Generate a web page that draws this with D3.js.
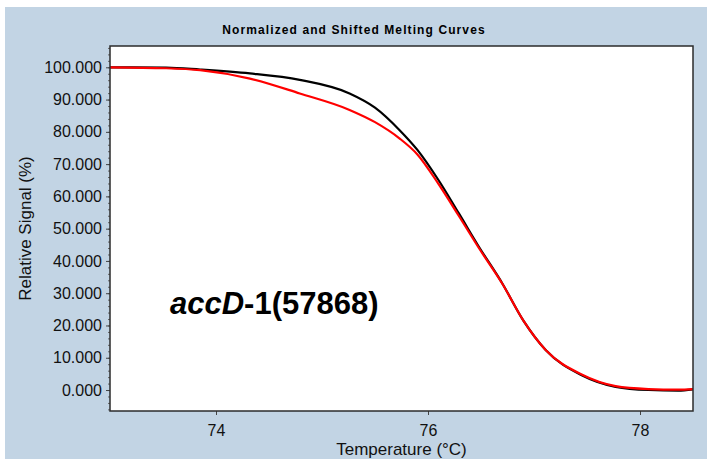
<!DOCTYPE html>
<html>
<head>
<meta charset="utf-8">
<script src="https://cdn.jsdelivr.net/npm/d3@7"></script>
<style>
  html, body { margin: 0; padding: 0; background: #fff; }
  svg { display: block; }
  text { font-family: "Liberation Sans", Arial, sans-serif; }
</style>
</head>
<body>
<div id="chart"></div>
<script>
// Temperatures (°C) where the curves were read
const temps = [73.0, 73.53, 73.85, 74.32, 74.79, 75.26, 75.5, 75.73, 75.9, 76.1, 76.29, 76.48, 76.7, 76.9, 77.11, 77.45, 77.77, 78.08, 78.36, 78.5];
// black curve (relative signal %)
const blackVals = [100, 99.9, 99.3, 98.1, 96.1, 91.9, 87.5, 80.6, 74.4, 65.0, 54.8, 44.4, 33.1, 21.5, 12.4, 4.6, 1.0, 0.0, -0.2, 0.2];
// red curve
const redVals = [100, 99.7, 99.1, 96.5, 91.9, 86.8, 83.0, 78.0, 73.0, 63.8, 54.0, 44.0, 33.0, 21.5, 12.4, 4.8, 1.2, 0.3, 0.1, 0.3];
const xTicks = [74, 76, 78];
const yTicks = [0, 10, 20, 30, 40, 50, 60, 70, 80, 90, 100];

const width = 707, height = 459;
const margin = {left: 110, right: 14, top: 46, bottom: 48};

const svg = d3.select('#chart').append('svg')
    .attr('width', width)
    .attr('height', height);

// blue panel
svg.append('rect')
    .attr('x', 5).attr('y', 7)
    .attr('width', width - 5).attr('height', height - 7)
    .attr('fill', '#c2d4e4');

const x = d3.scaleLinear().domain([73.0, 78.5]).range([margin.left, width - margin.right]);
const y = d3.scaleLinear().domain([-6.5, 106.6]).range([height - margin.bottom, margin.top]);

svg.append('rect')
    .attr('x', margin.left).attr('y', margin.top)
    .attr('width', width - margin.left - margin.right)
    .attr('height', height - margin.top - margin.bottom)
    .attr('fill', '#fff');

// title
svg.append('text')
    .attr('x', 354).attr('y', 34)
    .attr('text-anchor', 'middle')
    .attr('font-size', '12px')
    .attr('font-weight', 'bold')
    .attr('letter-spacing', '1.1px')
    .attr('fill', '#000')
    .text('Normalized and Shifted Melting Curves');

// y axis with minor ticks
svg.append('g')
    .attr('transform', `translate(${margin.left},0)`)
    .call(d3.axisLeft(y).tickValues(d3.range(-6, 107, 2)).tickSize(2).tickFormat(''))
    .call(g => g.select('.domain').remove())
    .call(g => g.selectAll('line').attr('stroke', '#666'));

svg.append('g')
    .attr('transform', `translate(${margin.left},0)`)
    .call(d3.axisLeft(y).tickValues(yTicks).tickSize(4).tickPadding(4).tickFormat(d3.format('.3f')))
    .call(g => g.select('.domain').remove())
    .call(g => g.selectAll('line').attr('stroke', '#444'))
    .call(g => g.selectAll('text').attr('font-size', '16px').attr('fill', '#111')
        .attr('font-family', '"Liberation Sans", Arial, sans-serif'));

// x axis
svg.append('g')
    .attr('transform', `translate(0,${height - margin.bottom})`)
    .call(d3.axisBottom(x).tickValues(xTicks).tickSize(4).tickPadding(10).tickFormat(d3.format('d')))
    .call(g => g.select('.domain').remove())
    .call(g => g.selectAll('line').attr('stroke', '#444'))
    .call(g => g.selectAll('text').attr('font-size', '16px').attr('fill', '#111')
        .attr('font-family', '"Liberation Sans", Arial, sans-serif'));

// axis titles
svg.append('text')
    .attr('x', (margin.left + width - margin.right) / 2)
    .attr('y', 455)
    .attr('text-anchor', 'middle')
    .attr('font-size', '17px')
    .attr('fill', '#111')
    .text('Temperature (°C)');

svg.append('text')
    .attr('transform', `translate(31,${(margin.top + height - margin.bottom) / 2}) rotate(-90)`)
    .attr('text-anchor', 'middle')
    .attr('font-size', '17px')
    .attr('fill', '#111')
    .text('Relative Signal (%)');

// curves
svg.append('clipPath').attr('id', 'clip')
    .append('rect')
    .attr('x', margin.left).attr('y', margin.top)
    .attr('width', width - margin.left - margin.right)
    .attr('height', height - margin.top - margin.bottom);

const line = d3.line()
    .x(d => x(d[0]))
    .y(d => y(d[1]))
    .curve(d3.curveMonotoneX);

const curves = svg.append('g').attr('clip-path', 'url(#clip)');
curves.append('path')
    .datum(temps.map((t, i) => [t, blackVals[i]]))
    .attr('d', line)
    .attr('fill', 'none')
    .attr('stroke', '#000')
    .attr('stroke-width', 2.2);
curves.append('path')
    .datum(temps.map((t, i) => [t, redVals[i]]))
    .attr('d', line)
    .attr('fill', 'none')
    .attr('stroke', '#ff0000')
    .attr('stroke-width', 2.2);

// frame
svg.append('rect')
    .attr('x', margin.left).attr('y', margin.top)
    .attr('width', width - margin.left - margin.right)
    .attr('height', height - margin.top - margin.bottom)
    .attr('fill', 'none')
    .attr('stroke', '#2b2b2b')
    .attr('stroke-width', 1.5);

// annotation
const label = svg.append('text')
    .attr('x', 170).attr('y', 314)
    .attr('font-size', '31px')
    .attr('font-weight', 'bold')
    .attr('fill', '#000');
label.append('tspan').attr('font-style', 'italic').text('accD');
label.append('tspan').text('-1(57868)');
</script>
</body>
</html>
